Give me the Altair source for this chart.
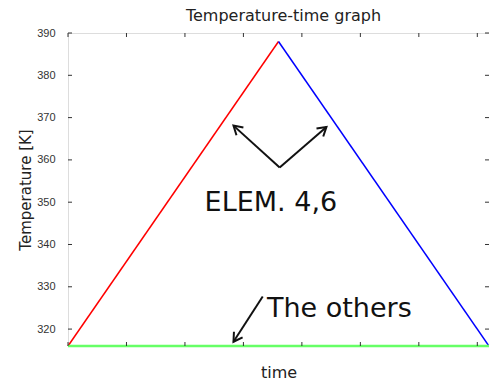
import altair as alt
import pandas as pd

# ---- data ----
series_names = ["ELEM. 4,6 (heating)", "ELEM. 4,6 (cooling)", "The others"]
series_time = [[0.0, 3.6], [3.6, 7.2], [0.0, 7.2]]
series_temp = [[316.0, 388.0], [388.0, 316.0], [316.0, 316.0]]
series_colors = ["#ff0000", "#0000ff", "#66ff66"]
series_widths = [1.5, 1.5, 2.5]

x_ticks = [0, 1, 2, 3, 4, 5, 6, 7]
y_ticks = [320, 330, 340, 350, 360, 370, 380, 390]

# annotation arrows: start (time, temp) -> tip (time2, temp2)
arrow_time = [3.62, 3.62, 3.33]
arrow_temp = [358.2, 358.2, 327.7]
arrow_time2 = [2.83, 4.42, 2.83]
arrow_temp2 = [368.1, 367.8, 317.0]
arrow_angle = [221.8, 319.5, 123.7]

label_text = ["ELEM. 4,6", "The others"]
label_time = [3.47, 4.64]
label_temp = [347.8, 322.9]

W, H = 421, 313

rows = []
for n, ts, vs, w in zip(series_names, series_time, series_temp, series_widths):
    for t, v in zip(ts, vs):
        rows.append({"series": n, "time": t, "temp": v, "w": w})
lines_df = pd.DataFrame(rows)

xs = alt.Scale(domain=[0, 7.2], nice=False, zero=False)
ys = alt.Scale(domain=[316, 390], nice=False, zero=False)

x_axis = alt.Axis(title="time", labels=False, ticks=False, domain=False, grid=False,
                  titleFont="DejaVu Sans", titleFontSize=16, titleFontWeight="normal",
                  titleColor="#222", titleY=31, titleBaseline="alphabetic")
y_axis = alt.Axis(title="Temperature [K]", values=y_ticks, ticks=False, tickSize=0,
                  domain=False, grid=False, labelPadding=13,
                  labelFont="Liberation Sans", labelFontSize=11, labelColor="#333",
                  titleFont="DejaVu Sans", titleFontSize=15, titleFontWeight="normal",
                  titleColor="#222", titleX=-43, titleY=H / 2, titleAngle=-90,
                  titleAlign="center", titleBaseline="middle")
x_enc = alt.X("time:Q", scale=xs, axis=x_axis)
y_enc = alt.Y("temp:Q", scale=ys, axis=y_axis)

lines = alt.Chart(lines_df).mark_line().encode(
    x=x_enc, y=y_enc,
    color=alt.Color("series:N", scale=alt.Scale(domain=series_names, range=series_colors), legend=None),
    strokeWidth=alt.StrokeWidth("w:Q", scale=None),
    detail="series:N",
)

xt = pd.DataFrame({"time": x_ticks})
yt = pd.DataFrame({"temp": y_ticks})
tick_col = "#333"
bottom_ticks = alt.Chart(xt).mark_rule(color=tick_col).encode(x=x_enc, y=alt.value(H), y2=alt.value(H - 4))
top_ticks = alt.Chart(xt).mark_rule(color=tick_col).encode(x=x_enc, y=alt.value(0), y2=alt.value(4))
left_ticks = alt.Chart(yt).mark_rule(color=tick_col).encode(y=y_enc, x=alt.value(0), x2=alt.value(4))
right_ticks = alt.Chart(yt).mark_rule(color=tick_col).encode(y=y_enc, x=alt.value(W - 4), x2=alt.value(W))

arr_df = pd.DataFrame({"time": arrow_time, "temp": arrow_temp,
                       "time2": arrow_time2, "temp2": arrow_temp2})
arrows = alt.Chart(arr_df).mark_rule(color="#111", strokeWidth=2).encode(
    x=x_enc, y=y_enc, x2="time2:Q", y2="temp2:Q")

head_df = pd.DataFrame({"time": arrow_time2, "temp": arrow_temp2, "ang": arrow_angle})
heads = alt.Chart(head_df).mark_point(
    shape="M -1 -0.6 L 0 0 L -1 0.6", filled=False, size=300, strokeWidth=2,
    color="#111", opacity=1).encode(
    x=x_enc, y=y_enc, angle=alt.Angle("ang:Q", scale=None))

lab_df = pd.DataFrame({"time": label_time, "temp": label_temp, "text": label_text})
labels = alt.Chart(lab_df).mark_text(font="DejaVu Sans", fontSize=27, align="center",
                                     baseline="alphabetic", color="#111").encode(
    x=x_enc, y=y_enc, text="text:N")

chart = alt.layer(lines, bottom_ticks, top_ticks, left_ticks, right_ticks, arrows, heads, labels).properties(
    width=W, height=H,
    title=alt.TitleParams("Temperature-time graph", font="DejaVu Sans", fontSize=16,
                          fontWeight="normal", color="#222", offset=3,
                          anchor="middle", dx=5),
    autosize=alt.AutoSizeParams(type="none"),
    padding={"left": 60, "top": 25, "right": 0, "bottom": 34},
).configure_view(stroke="#555", strokeWidth=1.5).configure(background="white")

chart.save("out.html", embed_options={"renderer": "svg", "actions": False})
